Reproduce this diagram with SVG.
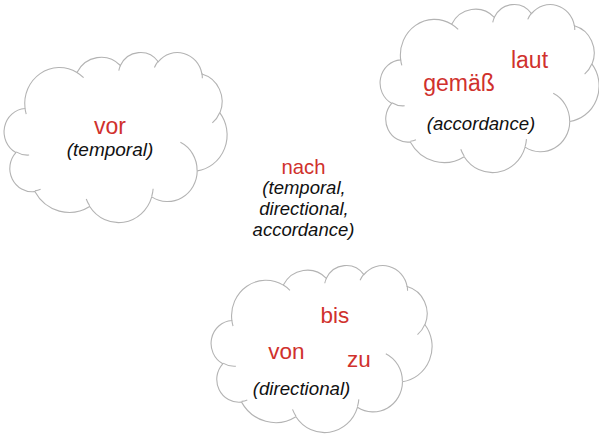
<svg xmlns="http://www.w3.org/2000/svg" xmlns:xlink="http://www.w3.org/1999/xlink" width="599" height="434" viewBox="0 0 599 434">
<style>
.red{fill:#d0312d;font-family:"Liberation Sans",Arial,sans-serif;text-anchor:middle}
.it{fill:#111;font-family:"Liberation Sans",Arial,sans-serif;font-style:italic;text-anchor:middle}
</style>
<defs>
<g id="cloud">
<path fill="#fff" stroke="#b3b3b3" stroke-width="1.1" vector-effect="non-scaling-stroke" d="M3900 14370A6753 9190 0 0 1 14005 5202A5333 7267 0 0 1 22456 3432A4365 5945 0 0 1 29833 2481A4857 6595 0 0 1 38318 5576A5333 7273 0 0 1 41818 15460A6775 9220 0 0 1 37404 30203A5785 7867 0 0 1 28556 36813A6752 9215 0 0 1 16481 39264A7720 10543 0 0 1 5805 35470A4360 5918 0 0 1 2114 25548A4345 5945 0 0 1 3900 14370Z"/>
<path fill="none" stroke="#b3b3b3" stroke-width="1.1" vector-effect="non-scaling-stroke" d="M4693 26177A4345 5945 0 0 1 2160 25380M6928 34899A4360 5918 0 0 1 5820 35281M16478 39090A6752 9215 0 0 1 15810 37350M28827 34751A6752 9215 0 0 1 28560 36660M34129 22954A5785 7867 0 0 1 37380 30090M41798 15354A5333 7273 0 0 1 40350 18030M38324 5426A4857 6595 0 0 1 38400 6689M29078 3952A4857 6595 0 0 1 29820 2341M22141 4720A4365 5945 0 0 1 22500 3330M14000 5192A6753 9190 0 0 1 15300 6540M4127 15789A6753 9190 0 0 1 3900 14370"/>
</g>
</defs>
<rect width="599" height="434" fill="#fff"/>
<g id="connectors"></g>
<g id="cloud-temporal">
<g transform="translate(5,52) scale(0.0051389,0.0039352)"><use xlink:href="#cloud" href="#cloud"/></g>
<text class="red" x="110" y="134" font-size="23">vor</text>
<text class="it" x="110" y="156" font-size="19">(temporal)</text>
</g>
<g id="cloud-accordance">
<g transform="translate(381,4) scale(0.0050463,0.0038889)"><use xlink:href="#cloud" href="#cloud"/></g>
<text class="red" x="529.5" y="67.5" font-size="23">laut</text>
<text class="red" x="459" y="90.5" font-size="23">gemäß</text>
<text class="it" x="481" y="129.5" font-size="18.6">(accordance)</text>
</g>
<g id="nach">
<text class="red" x="303.5" y="174" font-size="20.3">nach</text>
<text class="it" x="304" y="194" font-size="18.5">(temporal,</text>
<text class="it" x="304" y="215" font-size="18.5">directional,</text>
<text class="it" x="303.5" y="236" font-size="18.5">accordance)</text>
</g>
<g id="cloud-directional">
<g transform="translate(212,265) scale(0.0050926,0.0038657)"><use xlink:href="#cloud" href="#cloud"/></g>
<text class="red" x="335" y="322.5" font-size="22.5">bis</text>
<text class="red" x="286.3" y="359" font-size="22.5">von</text>
<text class="red" x="359" y="367" font-size="22.5">zu</text>
<text class="it" x="301.5" y="395" font-size="18.7">(directional)</text>
</g>
</svg>
